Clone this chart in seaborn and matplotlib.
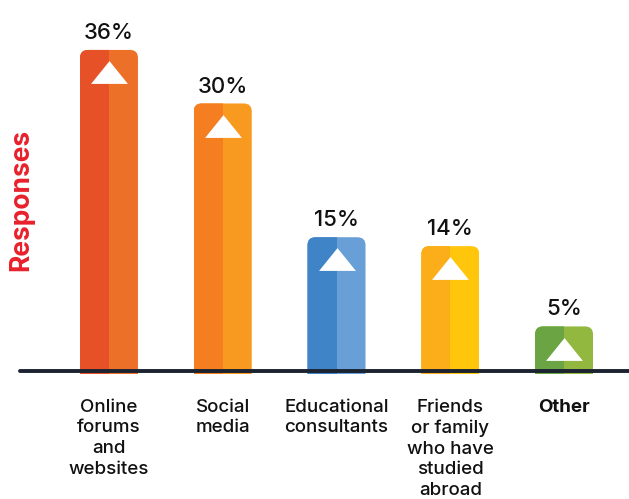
import numpy as np
import pandas as pd
import matplotlib
matplotlib.use('Agg')
import matplotlib.pyplot as plt
import matplotlib.transforms as mtransforms
from matplotlib.patches import FancyBboxPatch, Rectangle
import seaborn as sns

categories = ['Online\nforums\nand\nwebsites', 'Social\nmedia', 'Educational\nconsultants',
              'Friends\nor family\nwho have\nstudied\nabroad', 'Other']
values = [36, 30, 15, 14, 5]
dark_colors = ['#E65127', '#F47E20', '#3F84C6', '#FBAE1A', '#6BA543']
light_colors = ['#EC7028', '#F89A1F', '#679FD6', '#FFC60B', '#93B83F']

sns.set_style('white')
plt.rcParams['font.family'] = ['Inter', 'DejaVu Sans']

df = pd.DataFrame({'source': categories, 'pct': values})

fig = plt.figure(figsize=(6.29, 4.99), dpi=100)
ax = fig.add_axes([20 / 629, 1 - 371 / 499, 1 - 20 / 629, 371 / 499])

sns.barplot(data=df, x='source', y='pct', hue='source', palette=light_colors,
            width=0.51, legend=False, ax=ax)

ax.set_xlim(-0.782, 4.571)
ax.set_ylim(0, 41.6)

# pixel scale of data units, used for round corners
p0 = ax.transData.transform((0, 0))
px_x = ax.transData.transform((1, 0))[0] - p0[0]
px_y = ax.transData.transform((0, 1))[1] - p0[1]
aspect = px_x / px_y
r = 8 / px_x

bars = list(ax.patches)
for i, bar in enumerate(bars):
    x, w, h = bar.get_x(), bar.get_width(), bar.get_height()
    bar.set_visible(False)
    y0 = -3 * r * aspect
    for col, cw in [(light_colors[i], w), (dark_colors[i], w / 2)]:
        fb = FancyBboxPatch((x, y0), w, h - y0,
                            boxstyle=f'round,pad=0,rounding_size={r}',
                            mutation_aspect=aspect, fc=col, ec='none', zorder=2)
        ax.add_patch(fb)
        fb.set_clip_path(Rectangle((x, -0.3), cw, h + 5, transform=ax.transData))

# white arrows near the top of each bar
tri = [(-1, -0.62), (1, -0.62), (0, 0.62)]
tri_tr = mtransforms.offset_copy(ax.transData, fig=fig, x=0, y=-16, units='points')
centers = [b.get_x() + b.get_width() / 2 for b in bars]
ax.scatter(centers, values, marker=tri, s=26.5 ** 2, color='white',
           linewidths=0, zorder=4, transform=tri_tr)

for cont in ax.containers:
    ax.bar_label(cont, labels=[f'{int(v)}%' for v in cont.datavalues],
                 padding=5, fontsize=16, fontweight='medium', color='#111111')

ax.axhline(0, color='#1B2230', lw=2.8, zorder=5, clip_on=False)

ax.set_xlabel('')
ax.set_ylabel('')
ax.set_yticks([])
ax.tick_params(axis='x', length=0, pad=20, labelsize=13.5, labelcolor='#111111')
for lab in ax.get_xticklabels():
    lab.set_linespacing(1.28)
    lab.set_fontweight('medium')
ax.get_xticklabels()[-1].set_fontweight('bold')
sns.despine(ax=ax, left=True, bottom=True)

fig.text(21 / 629, 1 - 200 / 499, 'Responses', rotation=90, ha='center', va='center',
         fontsize=19, fontweight='bold', color='#E8212B')

fig.savefig('out.png', dpi=100)
plt.close()
